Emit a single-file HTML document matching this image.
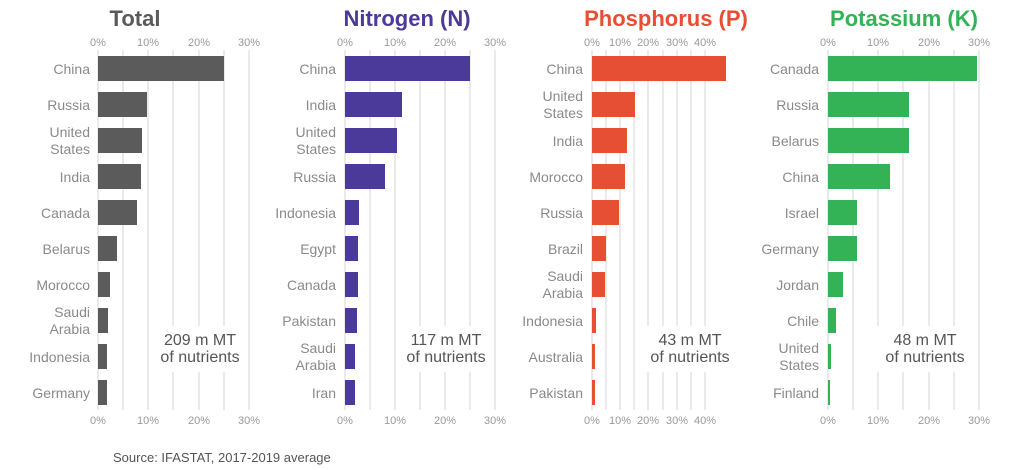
<!DOCTYPE html>
<html><head><meta charset="utf-8"><style>
body{margin:0;background:#fff}
svg{display:block;font-family:"Liberation Sans",sans-serif}
.l{font-size:14px;fill:#8a8a8a;text-anchor:end}
.t{font-size:11px;fill:#999;text-anchor:middle}
.a{font-size:16px;fill:#555;text-anchor:middle}
.h{font-size:22px;font-weight:bold;text-anchor:middle}
.g line{stroke:#d4d4d4;stroke-width:1}
</style></head><body>
<svg width="1024" height="470" viewBox="0 0 1024 470">
<g class="g">
<line x1="98" y1="50" x2="98" y2="410"/><line x1="123" y1="50" x2="123" y2="410"/><line x1="148" y1="50" x2="148" y2="410"/><line x1="173" y1="50" x2="173" y2="410"/><line x1="199" y1="50" x2="199" y2="410"/><line x1="224" y1="50" x2="224" y2="410"/><line x1="249" y1="50" x2="249" y2="410"/>
<line x1="345" y1="50" x2="345" y2="410"/><line x1="370" y1="50" x2="370" y2="410"/><line x1="395" y1="50" x2="395" y2="410"/><line x1="420" y1="50" x2="420" y2="410"/><line x1="445" y1="50" x2="445" y2="410"/><line x1="470" y1="50" x2="470" y2="410"/><line x1="495" y1="50" x2="495" y2="410"/>
<line x1="592" y1="50" x2="592" y2="410"/><line x1="606" y1="50" x2="606" y2="410"/><line x1="620" y1="50" x2="620" y2="410"/><line x1="634" y1="50" x2="634" y2="410"/><line x1="648" y1="50" x2="648" y2="410"/><line x1="663" y1="50" x2="663" y2="410"/><line x1="677" y1="50" x2="677" y2="410"/><line x1="691" y1="50" x2="691" y2="410"/><line x1="705" y1="50" x2="705" y2="410"/>
<line x1="828" y1="50" x2="828" y2="410"/><line x1="853" y1="50" x2="853" y2="410"/><line x1="878" y1="50" x2="878" y2="410"/><line x1="903" y1="50" x2="903" y2="410"/><line x1="929" y1="50" x2="929" y2="410"/><line x1="954" y1="50" x2="954" y2="410"/><line x1="979" y1="50" x2="979" y2="410"/>
</g>
<text class="h" x="135" y="26" fill="#5a5a5a">Total</text>
<text class="h" x="407" y="26" fill="#4b3a9a">Nitrogen (N)</text>
<text class="h" x="666" y="26" fill="#e64f33">Phosphorus (P)</text>
<text class="h" x="904" y="26" fill="#34b356">Potassium (K)</text>
<g class="t">
<text x="98" y="46">0%</text><text x="148" y="46">10%</text><text x="199" y="46">20%</text><text x="249" y="46">30%</text>
<text x="98" y="424">0%</text><text x="148" y="424">10%</text><text x="199" y="424">20%</text><text x="249" y="424">30%</text>
<text x="345" y="46">0%</text><text x="395" y="46">10%</text><text x="445" y="46">20%</text><text x="495" y="46">30%</text>
<text x="345" y="424">0%</text><text x="395" y="424">10%</text><text x="445" y="424">20%</text><text x="495" y="424">30%</text>
<text x="592" y="46">0%</text><text x="620" y="46">10%</text><text x="648" y="46">20%</text><text x="677" y="46">30%</text><text x="705" y="46">40%</text>
<text x="592" y="424">0%</text><text x="620" y="424">10%</text><text x="648" y="424">20%</text><text x="677" y="424">30%</text><text x="705" y="424">40%</text>
<text x="828" y="46">0%</text><text x="878" y="46">10%</text><text x="929" y="46">20%</text><text x="979" y="46">30%</text>
<text x="828" y="424">0%</text><text x="878" y="424">10%</text><text x="929" y="424">20%</text><text x="979" y="424">30%</text>
</g>
<rect x="152" y="326" width="96" height="46" fill="#fff"/>
<rect x="398" y="326" width="96" height="46" fill="#fff"/>
<rect x="642" y="326" width="96" height="46" fill="#fff"/>
<rect x="877" y="326" width="96" height="46" fill="#fff"/>
<g class="a">
<text x="200" y="345">209 m MT</text><text x="200" y="362">of nutrients</text>
<text x="446" y="345">117 m MT</text><text x="446" y="362">of nutrients</text>
<text x="690" y="345">43 m MT</text><text x="690" y="362">of nutrients</text>
<text x="925" y="345">48 m MT</text><text x="925" y="362">of nutrients</text>
</g>
<g fill="#5b5b5b">
<rect x="98" y="56" width="126" height="25"/><rect x="98" y="92" width="49" height="25"/><rect x="98" y="128" width="44" height="25"/><rect x="98" y="164" width="43" height="25"/><rect x="98" y="200" width="39" height="25"/><rect x="98" y="236" width="19" height="25"/><rect x="98" y="272" width="12" height="25"/><rect x="98" y="308" width="10" height="25"/><rect x="98" y="344" width="9" height="25"/><rect x="98" y="380" width="9" height="25"/>
</g>
<g class="l">
<text x="90" y="74">China</text><text x="90" y="110">Russia</text><text x="90" y="137">United</text><text x="90" y="154">States</text><text x="90" y="182">India</text><text x="90" y="218">Canada</text><text x="90" y="254">Belarus</text><text x="90" y="290">Morocco</text><text x="90" y="317">Saudi</text><text x="90" y="334">Arabia</text><text x="90" y="362">Indonesia</text><text x="90" y="398">Germany</text>
</g>
<g fill="#4b3a9a">
<rect x="345" y="56" width="125" height="25"/><rect x="345" y="92" width="57" height="25"/><rect x="345" y="128" width="52" height="25"/><rect x="345" y="164" width="40" height="25"/><rect x="345" y="200" width="14" height="25"/><rect x="345" y="236" width="13" height="25"/><rect x="345" y="272" width="13" height="25"/><rect x="345" y="308" width="12" height="25"/><rect x="345" y="344" width="10" height="25"/><rect x="345" y="380" width="10" height="25"/>
</g>
<g class="l">
<text x="336" y="74">China</text><text x="336" y="110">India</text><text x="336" y="137">United</text><text x="336" y="154">States</text><text x="336" y="182">Russia</text><text x="336" y="218">Indonesia</text><text x="336" y="254">Egypt</text><text x="336" y="290">Canada</text><text x="336" y="326">Pakistan</text><text x="336" y="353">Saudi</text><text x="336" y="370">Arabia</text><text x="336" y="398">Iran</text>
</g>
<g fill="#e64f33">
<rect x="592" y="56" width="134" height="25"/><rect x="592" y="92" width="43" height="25"/><rect x="592" y="128" width="35" height="25"/><rect x="592" y="164" width="33" height="25"/><rect x="592" y="200" width="27" height="25"/><rect x="592" y="236" width="14" height="25"/><rect x="592" y="272" width="13" height="25"/><rect x="592" y="308" width="4" height="25"/><rect x="592" y="344" width="3" height="25"/><rect x="592" y="380" width="3" height="25"/>
</g>
<g class="l">
<text x="583" y="74">China</text><text x="583" y="101">United</text><text x="583" y="118">States</text><text x="583" y="146">India</text><text x="583" y="182">Morocco</text><text x="583" y="218">Russia</text><text x="583" y="254">Brazil</text><text x="583" y="281">Saudi</text><text x="583" y="298">Arabia</text><text x="583" y="326">Indonesia</text><text x="583" y="362">Australia</text><text x="583" y="398">Pakistan</text>
</g>
<g fill="#34b356">
<rect x="828" y="56" width="149" height="25"/><rect x="828" y="92" width="81" height="25"/><rect x="828" y="128" width="81" height="25"/><rect x="828" y="164" width="62" height="25"/><rect x="828" y="200" width="29" height="25"/><rect x="828" y="236" width="29" height="25"/><rect x="828" y="272" width="15" height="25"/><rect x="828" y="308" width="8" height="25"/><rect x="828" y="344" width="3" height="25"/><rect x="828" y="380" width="2" height="25"/>
</g>
<g class="l">
<text x="819" y="74">Canada</text><text x="819" y="110">Russia</text><text x="819" y="146">Belarus</text><text x="819" y="182">China</text><text x="819" y="218">Israel</text><text x="819" y="254">Germany</text><text x="819" y="290">Jordan</text><text x="819" y="326">Chile</text><text x="819" y="353">United</text><text x="819" y="370">States</text><text x="819" y="398">Finland</text>
</g>
<text x="113" y="462" style="font-size:13px;fill:#555">Source: IFASTAT, 2017-2019 average</text>
</svg>
</body></html>
